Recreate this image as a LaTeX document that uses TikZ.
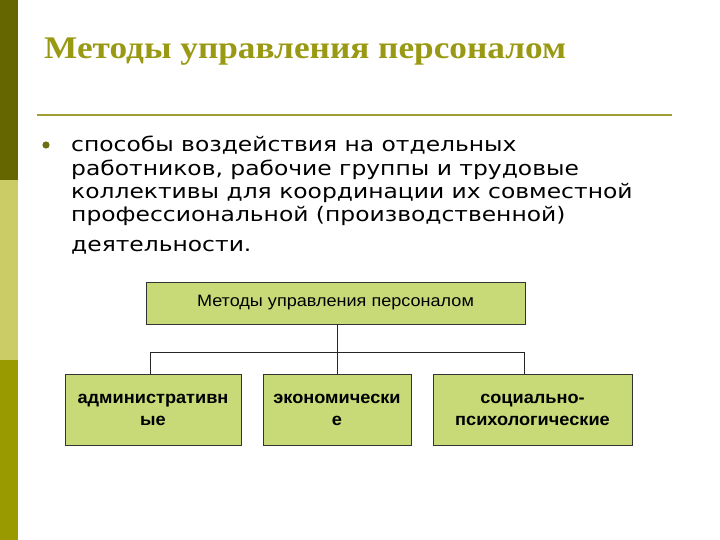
\documentclass[tikz,border=0pt]{standalone}
\usepackage{fontspec}
\setmainfont{Liberation Serif}
\newfontfamily\titlefont[FakeStretch=1.12]{Liberation Serif}
\newfontfamily\bodyfont[FakeStretch=1.17]{DejaVu Sans}
\newfontfamily\boxfont[FakeStretch=1.095]{Liberation Sans}
\newfontfamily\boxboldfont[FakeStretch=1.05]{Liberation Sans}
\definecolor{bardark}{RGB}{102,102,0}
\definecolor{barlight}{RGB}{204,204,102}
\definecolor{barmid}{RGB}{153,153,0}
\definecolor{titlecol}{RGB}{153,153,20}
\definecolor{rulecol}{RGB}{160,160,50}
\definecolor{boxfill}{RGB}{199,218,119}
\definecolor{bulletcol}{RGB}{110,110,20}
\tikzset{
  methbox/.style={draw=black!80, line width=0.7pt, fill=boxfill, align=center, inner sep=2pt},
  subbox/.style={methbox, minimum height=71, font=\boxboldfont\bfseries\fontsize{17.3}{21.5}\selectfont},
  conn/.style={draw=black!85, line width=0.6pt}
}
\begin{document}
\begin{tikzpicture}[x=1pt,y=-1pt]
\useasboundingbox (0,0) rectangle (720,540);
\fill[white] (0,0) rectangle (720,540);
% left bar
\fill[bardark] (0,0) rectangle (18,180);
\fill[barlight] (0,180) rectangle (18,360);
\fill[barmid] (0,360) rectangle (18,540);
% title
\node[anchor=base west, text=titlecol, font=\titlefont\bfseries\fontsize{31.5}{36}\selectfont, inner sep=0pt] (title) at (44,59) {Методы управления персоналом};
\draw[rulecol, line width=1.6pt] (37,115) -- (672,115);
% bullet
\fill[bulletcol] (46,145) circle (3.6);
\node[anchor=north west, align=left, inner sep=0pt, font=\bodyfont\fontsize{20}{23.3}\selectfont] (bullettext) at (71,136)
  {способы воздействия на отдельных\\работников, рабочие группы и трудовые\\коллективы для координации их совместной\\профессиональной (производственной)\\[7pt]деятельности.};
% boxes
\node[methbox, minimum width=379, minimum height=42, font=\boxfont\fontsize{16.5}{19}\selectfont] (top) at (335.5,303) {Методы управления персоналом};
\node[subbox, minimum width=176] (left) at (153,410) {административн\\ые};
\node[subbox, minimum width=148] (mid) at (337,410) {экономически\\е};
\node[subbox, minimum width=199] (right) at (532.5,410) {социально-\\психологические};
% connectors
\coordinate (hl) at (150,352);
\coordinate (hr) at (524,352);
\draw[conn] (top.south -| mid.north) -- (mid.north);
\draw[conn] (left.north -| hl) -- (hl) -- (hr) -- (right.north -| hr);
\end{tikzpicture}
\end{document}
